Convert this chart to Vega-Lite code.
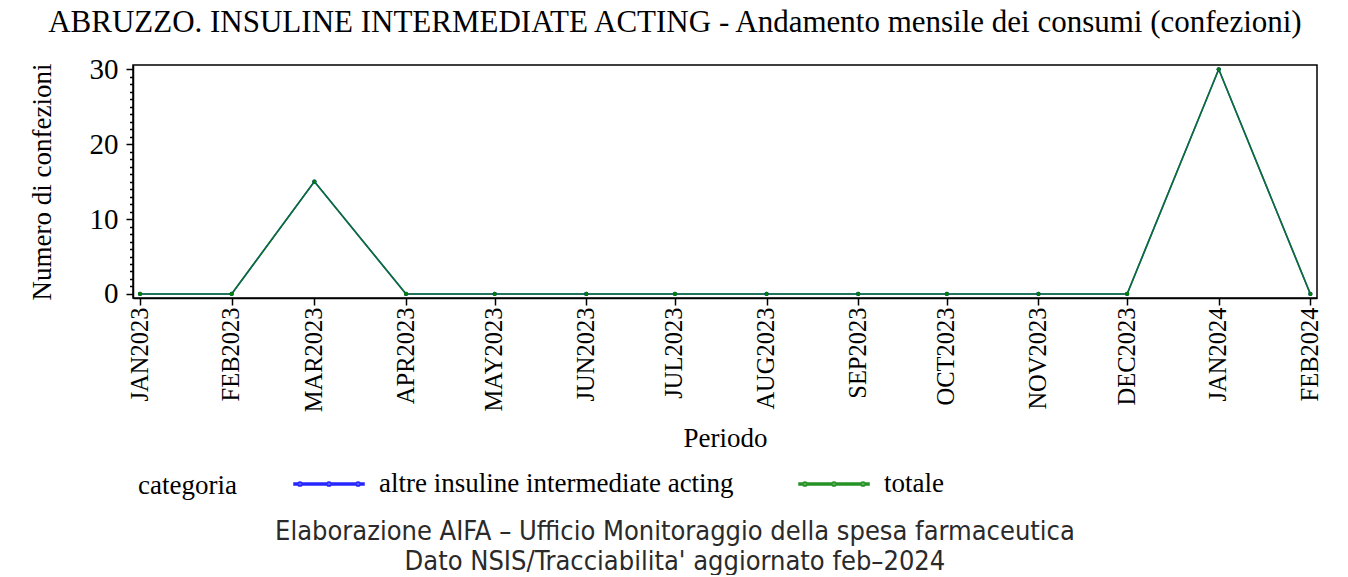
{
  "$schema": "https://vega.github.io/schema/vega-lite/v6.json",
  "background": "white",
  "padding": {"left": 27, "top": 6, "right": 26, "bottom": 0},
  "title": {
    "text": ["Elaborazione AIFA – Ufficio Monitoraggio della spesa farmaceutica", "Dato NSIS/Tracciabilita' aggiornato feb–2024"],
    "orient": "bottom",
    "anchor": "middle",
    "frame": "bounds",
    "font": "DejaVu Sans Condensed",
    "fontSize": 27,
    "fontWeight": "normal",
    "color": "#2a2a2a",
    "lineHeight": 30,
    "offset": 15
  },
  "config": {
    "font": "Liberation Serif",
    "view": {"stroke": "black", "strokeWidth": 1.5},
    "axis": {
      "labelFont": "Liberation Serif",
      "labelFontSize": 27,
      "labelColor": "black",
      "titleFont": "Liberation Serif",
      "titleFontSize": 27,
      "titleFontWeight": "normal",
      "titleColor": "black",
      "domainColor": "black",
      "domainWidth": 1.5,
      "tickColor": "black",
      "tickWidth": 1.5,
      "grid": false,
      "labelOverlap": false,
      "labelFlush": false,
      "labelLimit": 0
    },
    "legend": {
      "orient": "bottom",
      "direction": "horizontal",
      "titleOrient": "left",
      "titleFont": "Liberation Serif",
      "titleFontSize": 27,
      "titleFontWeight": "normal",
      "titleColor": "black",
      "titleLimit": 0,
      "labelFont": "Liberation Serif",
      "labelFontSize": 27,
      "labelColor": "black",
      "labelLimit": 0,
      "titlePadding": 56,
      "columnPadding": 62,
      "labelOffset": 14,
      "padding": 5,
      "offset": -10
    }
  },
  "vconcat": [
    {
      "title": {
        "text": "ABRUZZO. INSULINE INTERMEDIATE ACTING - Andamento mensile dei consumi (confezioni)",
        "anchor": "middle",
        "frame": "bounds",
        "font": "Liberation Serif",
        "fontSize": 31,
        "fontWeight": "normal",
        "color": "black",
        "offset": 16
      },
      "width": 1184,
      "height": 233,
      "data": {
        "values": [
          {"periodo": "2023-01-01", "categoria": "altre insuline intermediate acting", "confezioni": 0},
          {"periodo": "2023-02-01", "categoria": "altre insuline intermediate acting", "confezioni": 0},
          {"periodo": "2023-03-01", "categoria": "altre insuline intermediate acting", "confezioni": 15},
          {"periodo": "2023-04-01", "categoria": "altre insuline intermediate acting", "confezioni": 0},
          {"periodo": "2023-05-01", "categoria": "altre insuline intermediate acting", "confezioni": 0},
          {"periodo": "2023-06-01", "categoria": "altre insuline intermediate acting", "confezioni": 0},
          {"periodo": "2023-07-01", "categoria": "altre insuline intermediate acting", "confezioni": 0},
          {"periodo": "2023-08-01", "categoria": "altre insuline intermediate acting", "confezioni": 0},
          {"periodo": "2023-09-01", "categoria": "altre insuline intermediate acting", "confezioni": 0},
          {"periodo": "2023-10-01", "categoria": "altre insuline intermediate acting", "confezioni": 0},
          {"periodo": "2023-11-01", "categoria": "altre insuline intermediate acting", "confezioni": 0},
          {"periodo": "2023-12-01", "categoria": "altre insuline intermediate acting", "confezioni": 0},
          {"periodo": "2024-01-01", "categoria": "altre insuline intermediate acting", "confezioni": 30},
          {"periodo": "2024-02-01", "categoria": "altre insuline intermediate acting", "confezioni": 0},
          {"periodo": "2023-01-01", "categoria": "totale", "confezioni": 0},
          {"periodo": "2023-02-01", "categoria": "totale", "confezioni": 0},
          {"periodo": "2023-03-01", "categoria": "totale", "confezioni": 15},
          {"periodo": "2023-04-01", "categoria": "totale", "confezioni": 0},
          {"periodo": "2023-05-01", "categoria": "totale", "confezioni": 0},
          {"periodo": "2023-06-01", "categoria": "totale", "confezioni": 0},
          {"periodo": "2023-07-01", "categoria": "totale", "confezioni": 0},
          {"periodo": "2023-08-01", "categoria": "totale", "confezioni": 0},
          {"periodo": "2023-09-01", "categoria": "totale", "confezioni": 0},
          {"periodo": "2023-10-01", "categoria": "totale", "confezioni": 0},
          {"periodo": "2023-11-01", "categoria": "totale", "confezioni": 0},
          {"periodo": "2023-12-01", "categoria": "totale", "confezioni": 0},
          {"periodo": "2024-01-01", "categoria": "totale", "confezioni": 30},
          {"periodo": "2024-02-01", "categoria": "totale", "confezioni": 0}
        ]
      },
      "encoding": {
        "x": {
          "field": "periodo",
          "type": "temporal",
          "scale": {
            "type": "utc",
            "domain": [
              {"year": 2022, "month": 12, "date": 29, "hours": 15, "utc": true},
              {"year": 2024, "month": 2, "date": 3, "hours": 6, "utc": true}
            ]
          },
          "axis": {
            "title": "Periodo",
            "values": [
              {"year": 2023, "month": 1, "date": 1, "utc": true},
              {"year": 2023, "month": 2, "date": 1, "utc": true},
              {"year": 2023, "month": 3, "date": 1, "utc": true},
              {"year": 2023, "month": 4, "date": 1, "utc": true},
              {"year": 2023, "month": 5, "date": 1, "utc": true},
              {"year": 2023, "month": 6, "date": 1, "utc": true},
              {"year": 2023, "month": 7, "date": 1, "utc": true},
              {"year": 2023, "month": 8, "date": 1, "utc": true},
              {"year": 2023, "month": 9, "date": 1, "utc": true},
              {"year": 2023, "month": 10, "date": 1, "utc": true},
              {"year": 2023, "month": 11, "date": 1, "utc": true},
              {"year": 2023, "month": 12, "date": 1, "utc": true},
              {"year": 2024, "month": 1, "date": 1, "utc": true},
              {"year": 2024, "month": 2, "date": 1, "utc": true}
            ],
            "labelExpr": "upper(utcFormat(datum.value, '%b%Y'))",
            "labelFontSize": 24.5,
            "labelAngle": 270,
            "labelPadding": 2,
            "tickSize": 7,
            "titlePadding": 14
          }
        },
        "y": {
          "field": "confezioni",
          "type": "quantitative",
          "scale": {"domain": [-0.54, 30.57], "nice": false, "zero": false},
          "axis": {
            "title": "Numero di confezioni",
            "values": [0,1,2,3,4,5,6,7,8,9,10,11,12,13,14,15,16,17,18,19,20,21,22,23,24,25,26,27,28,29,30],
            "labelExpr": "datum.value % 10 === 0 ? datum.label : ''",
            "labelFontSize": 29,
            "tickSize": {"condition": {"test": "datum.value % 10 === 0", "value": 7}, "value": 3.5},
            "labelPadding": 8,
            "titlePadding": 33
          }
        },
        "color": {
          "field": "categoria",
          "type": "nominal",
          "scale": {
            "domain": ["altre insuline intermediate acting", "totale"],
            "range": ["#0000ff", "#008000"]
          },
          "legend": {
            "title": "categoria",
            "titleAnchor": "middle",
            "titleBaseline": "top",
            "symbolType": "M-1,-0.03H1V0.03H-1Z M-0.89,0A0.06,0.06 0 1,0 -0.77,0A0.06,0.06 0 1,0 -0.89,0Z M-0.06,0A0.06,0.06 0 1,0 0.06,0A0.06,0.06 0 1,0 -0.06,0Z M0.77,0A0.06,0.06 0 1,0 0.89,0A0.06,0.06 0 1,0 0.77,0Z",
            "symbolSize": 4900,
            "encode": {
              "symbols": {
                "update": {
                  "fill": {"scale": "color", "field": "value"},
                  "strokeWidth": {"value": 0},
                  "opacity": {"value": 1}
                }
              }
            }
          }
        }
      },
      "layer": [
        {"mark": {"type": "line", "strokeWidth": 1.6, "opacity": 0.85}},
        {"mark": {"type": "point", "filled": true, "size": 18, "opacity": 1}}
      ]
    }
  ]
}
